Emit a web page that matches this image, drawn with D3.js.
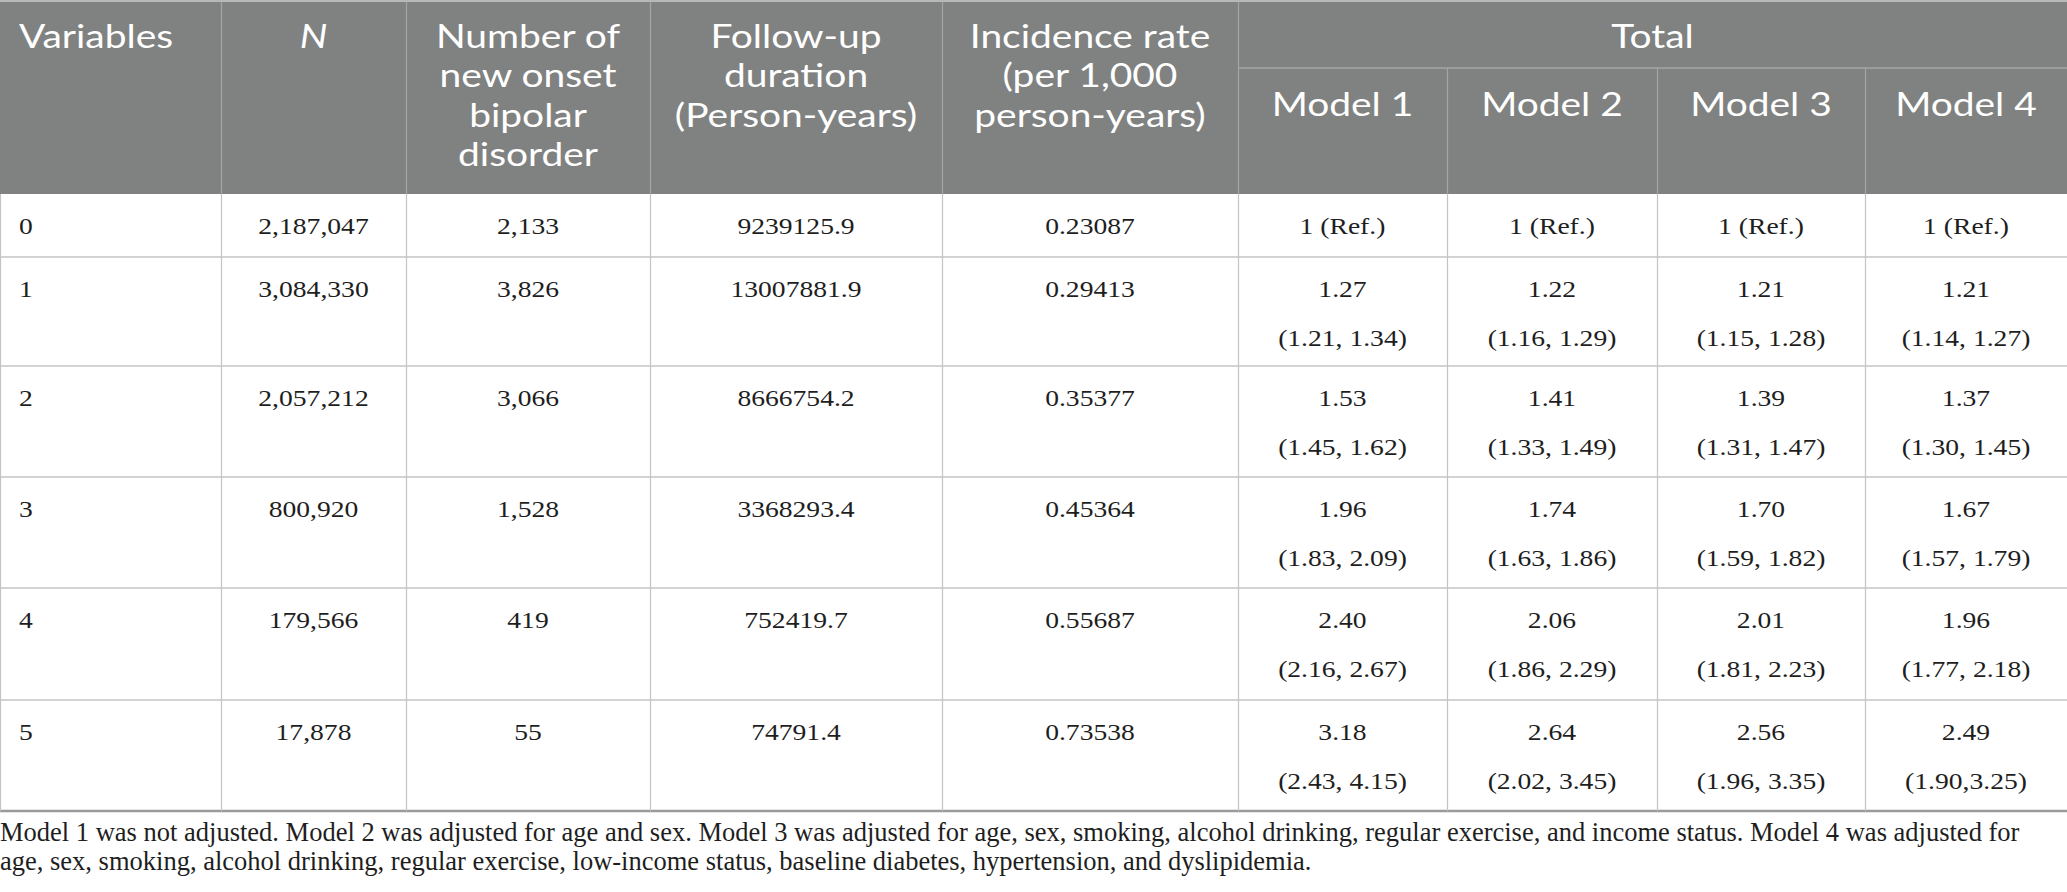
<!DOCTYPE html>
<html>
<head>
<meta charset="utf-8">
<script src="https://cdn.jsdelivr.net/npm/d3@7"></script>
<style>
  body { margin: 0; background: #fff; }
  .head { font-family: Lato, "Open Sans", sans-serif; fill: #fff; }
  .cell { font-family: "Liberation Serif", serif; fill: #1e1e1e; }
  .note { font-family: "Liberation Serif", serif; fill: #1e1e1e; }
</style>
</head>
<body>
<svg id="tbl"></svg>
<script>
// table values
var variables = ["0", "1", "2", "3", "4", "5"];
var nValues = ["2,187,047", "3,084,330", "2,057,212", "800,920", "179,566", "17,878"];
var newOnset = ["2,133", "3,826", "3,066", "1,528", "419", "55"];
var followUp = ["9239125.9", "13007881.9", "8666754.2", "3368293.4", "752419.7", "74791.4"];
var incidence = ["0.23087", "0.29413", "0.35377", "0.45364", "0.55687", "0.73538"];

var model1Est = ["1 (Ref.)", "1.27", "1.53", "1.96", "2.40", "3.18"];
var model1CI = ["", "(1.21, 1.34)", "(1.45, 1.62)", "(1.83, 2.09)", "(2.16, 2.67)", "(2.43, 4.15)"];
var model2Est = ["1 (Ref.)", "1.22", "1.41", "1.74", "2.06", "2.64"];
var model2CI = ["", "(1.16, 1.29)", "(1.33, 1.49)", "(1.63, 1.86)", "(1.86, 2.29)", "(2.02, 3.45)"];
var model3Est = ["1 (Ref.)", "1.21", "1.39", "1.70", "2.01", "2.56"];
var model3CI = ["", "(1.15, 1.28)", "(1.31, 1.47)", "(1.59, 1.82)", "(1.81, 2.23)", "(1.96, 3.35)"];
var model4Est = ["1 (Ref.)", "1.21", "1.37", "1.67", "1.96", "2.49"];
var model4CI = ["", "(1.14, 1.27)", "(1.30, 1.45)", "(1.57, 1.79)", "(1.77, 2.18)", "(1.90,3.25)"];

var headers = [
  ["Variables"],
  ["N"],
  ["Number of", "new onset", "bipolar", "disorder"],
  ["Follow-up", "duration", "(Person-years)"],
  ["Incidence rate", "(per 1,000", "person-years)"]
];
var groupHeader = "Total";
var modelHeaders = ["Model 1", "Model 2", "Model 3", "Model 4"];
var footnote = [
  "Model 1 was not adjusted. Model 2 was adjusted for age and sex. Model 3 was adjusted for age, sex, smoking, alcohol drinking, regular exercise, and income status. Model 4 was adjusted for",
  "age, sex, smoking, alcohol drinking, regular exercise, low-income status, baseline diabetes, hypertension, and dyslipidemia."
];

function drawTable() {
  const W = 2067, H = 892;
  const colWidths = [221, 185, 244, 292, 296, 209, 210, 208, 202];
  const colEdges = [0].concat(Array.from(d3.cumsum(colWidths)));
  const rowHeights = [63, 109, 111, 111, 112, 111];
  const headH = 194, subTop = 68;
  const rowEdges = [headH].concat(Array.from(d3.cumsum(rowHeights), (d) => d + headH));
  const lineStep = 39.6, bodyStep = 49, stretch = 1.2, headStretch = 1.18;
  const headSize = "33px";

  const colX = (i) => colEdges[i];
  const colMid = (i) => (colEdges[i] + colEdges[i + 1]) / 2;
  const place = (x, y, s) => "translate(" + x + "," + y + ") scale(" + s + ",1)";

  const svg = d3.select("#tbl").attr("width", W).attr("height", H);

  // header background
  svg.append("rect")
    .attr("x", 0).attr("y", 0)
    .attr("width", colEdges[colEdges.length - 1]).attr("height", headH)
    .attr("fill", "#808281");

  // header vertical lines
  svg.selectAll(".hv")
    .data(d3.range(1, colEdges.length - 1))
    .enter()
    .append("line")
    .attr("x1", (d) => colX(d) + 0.5).attr("x2", (d) => colX(d) + 0.5)
    .attr("y1", (d) => d > 5 ? subTop : 0).attr("y2", headH)
    .attr("stroke", "#a4a5a5").attr("stroke-width", 1.2);

  svg.append("line")
    .attr("x1", colX(5)).attr("x2", colX(9))
    .attr("y1", subTop).attr("y2", subTop)
    .attr("stroke", "#a4a5a5").attr("stroke-width", 1.5);

  svg.append("line")
    .attr("x1", 0).attr("x2", W).attr("y1", 1).attr("y2", 1)
    .attr("stroke", "#b8b8b8").attr("stroke-width", 2);

  // header text
  headers.forEach(function (lines, i) {
    svg.selectAll(".h" + i)
      .data(lines)
      .enter()
      .append("text")
      .attr("class", "head")
      .attr("transform", (d, j) => place(i === 0 ? 19 : colMid(i), 36 + j * lineStep, headStretch))
      .attr("dy", "0.35em")
      .style("text-anchor", i === 0 ? "start" : "middle")
      .style("font-size", headSize)
      .style("font-style", i === 1 ? "italic" : "normal")
      .text((d) => d);
  });

  svg.append("text")
    .attr("class", "head")
    .attr("transform", place((colX(5) + colX(9)) / 2, 36, headStretch))
    .attr("dy", "0.35em")
    .style("text-anchor", "middle").style("font-size", headSize)
    .text(groupHeader);

  svg.selectAll(".mh")
    .data(modelHeaders)
    .enter()
    .append("text")
    .attr("class", "head")
    .attr("transform", (d, i) => place(colMid(i + 5), subTop + 36, headStretch))
    .attr("dy", "0.35em")
    .style("text-anchor", "middle").style("font-size", headSize)
    .text((d) => d);

  // body lines
  svg.selectAll(".rl")
    .data(rowEdges.slice(1))
    .enter()
    .append("line")
    .attr("x1", 0).attr("x2", W)
    .attr("y1", (d) => d).attr("y2", (d) => d)
    .attr("stroke", (d, i) => i === rowHeights.length - 1 ? "#9a9a9a" : "#c4c4c4")
    .attr("stroke-width", (d, i) => i === rowHeights.length - 1 ? 2.5 : 1.5);

  svg.selectAll(".bv")
    .data(d3.range(0, colEdges.length - 1))
    .enter()
    .append("line")
    .attr("x1", (d) => d === 0 ? 0.5 : colX(d) + 0.5).attr("x2", (d) => d === 0 ? 0.5 : colX(d) + 0.5)
    .attr("y1", headH).attr("y2", rowEdges[rowEdges.length - 1])
    .attr("stroke", "#c4c4c4").attr("stroke-width", 1.2);

  // body text
  const columns = [variables, nValues, newOnset, followUp, incidence,
    model1Est, model2Est, model3Est, model4Est];
  const ciColumns = [model1CI, model2CI, model3CI, model4CI];

  const cells = [];
  columns.forEach(function (col, c) {
    col.forEach(function (v, r) {
      cells.push({c: c, r: r, text: v, line: 0});
    });
  });
  ciColumns.forEach(function (col, k) {
    col.forEach(function (v, r) {
      if (v) cells.push({c: k + 5, r: r, text: v, line: 1});
    });
  });

  svg.selectAll(".cell")
    .data(cells)
    .enter()
    .append("text")
    .attr("class", "cell")
    .attr("transform", (d) => place(d.c === 0 ? 19 : colMid(d.c),
      rowEdges[d.r] + 31.5 + d.line * bodyStep, stretch))
    .attr("dy", "0.35em")
    .style("text-anchor", (d) => d.c === 0 ? "start" : "middle")
    .style("font-size", "23px")
    .text((d) => d.text);

  // footnote
  svg.selectAll(".note")
    .data(footnote)
    .enter()
    .append("text")
    .attr("class", "note")
    .attr("x", 0)
    .attr("y", (d, i) => 832 + i * 29)
    .attr("dy", "0.35em")
    .style("font-size", "26.5px")
    .text((d) => d);
}

drawTable();
</script>
</body>
</html>
